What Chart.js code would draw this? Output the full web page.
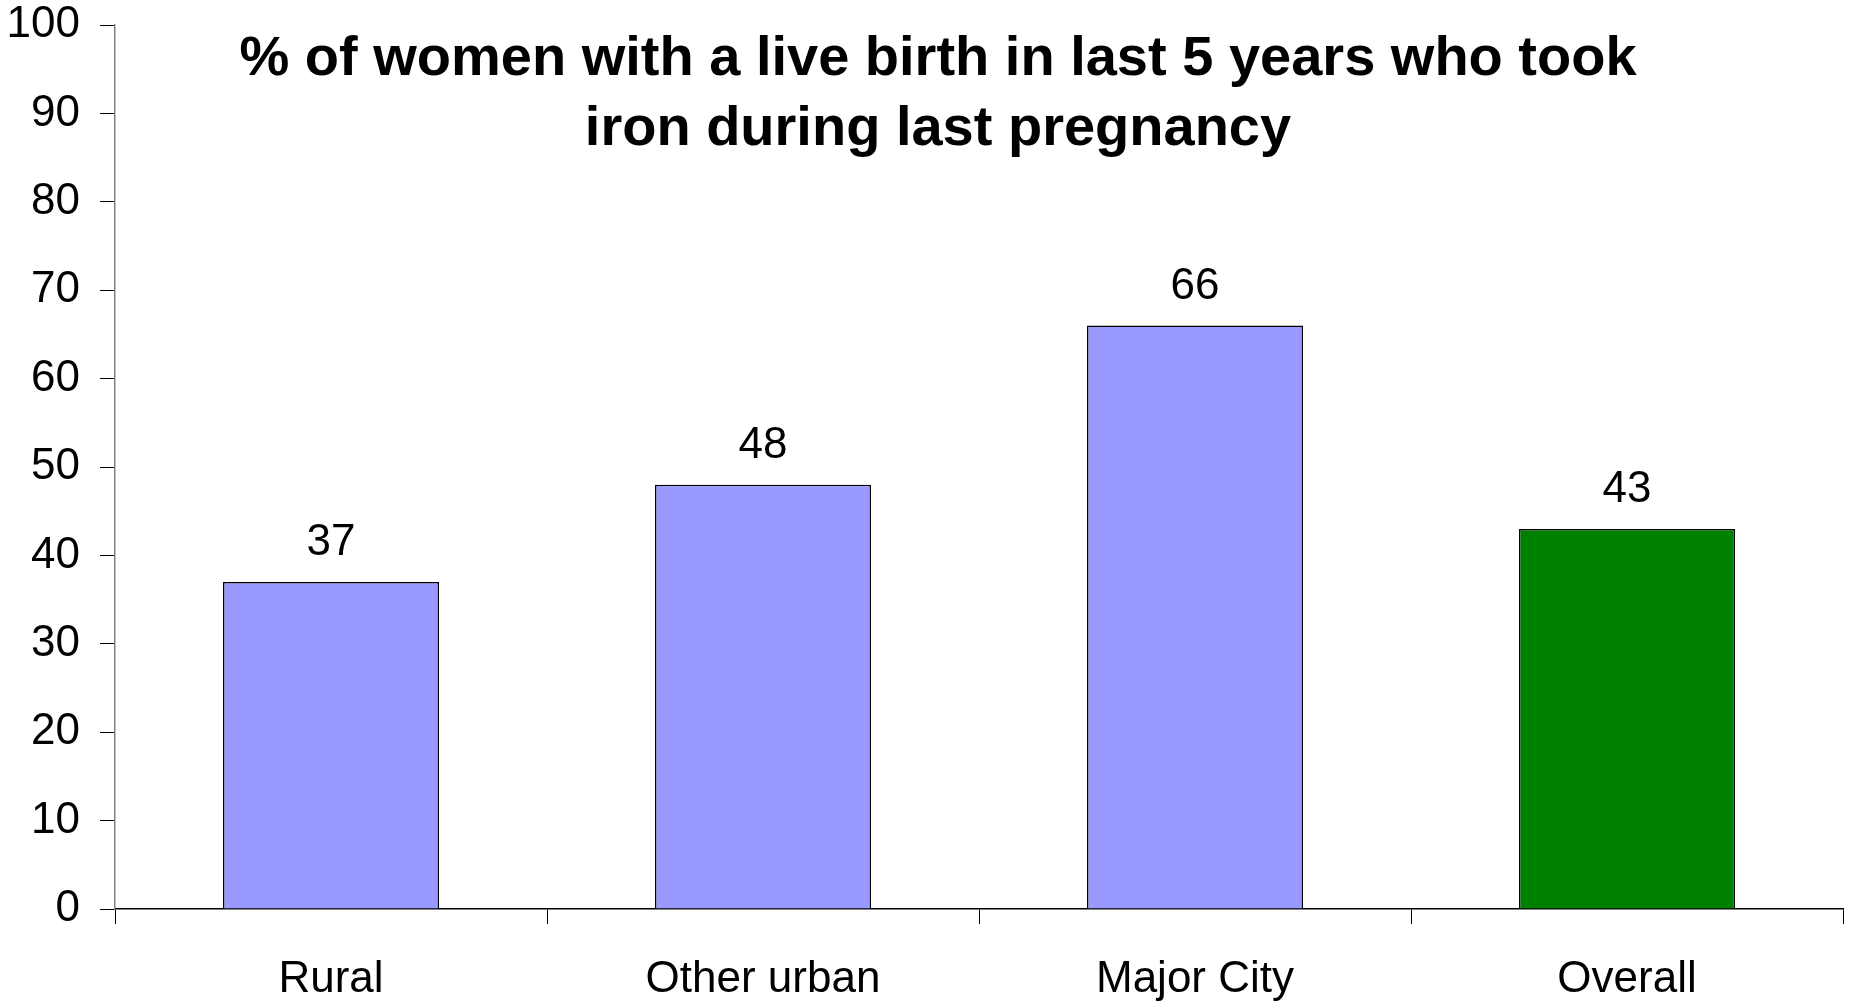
<!DOCTYPE html>
<html>
  <head>
    <meta charset="UTF-8">
    <title>Iron during last pregnancy</title>
    <script src="https://cdn.jsdelivr.net/npm/chart.js"></script>
    <style>
      html, body { margin: 0; padding: 0; background: #fff; }
      #wrap { width: 1851px; height: 1001px; }
    </style>
  </head>
  <body>
    <div id="wrap"><canvas id="chart"></canvas></div>

    <script>
      // data
      var categories = ['Rural', 'Other urban', 'Major City', 'Overall'];
      var percentValues = [37, 48, 66, 43];
      var barColors = ['#9999FF', '#9999FF', '#9999FF', '#008000'];
      var titleLines = ['% of women with a live birth in last 5 years who took', 'iron during last pregnancy'];
      var yTicks = [0, 10, 20, 30, 40, 50, 60, 70, 80, 90, 100];

      var FONT = '"Liberation Sans", Arial, sans-serif';

      // title drawn on top of the chart area, like the original
      var titlePlugin = {
        id: 'titleLines',
        afterDraw: function(chart) {
          var ctx = chart.ctx;
          ctx.save();
          ctx.fillStyle = '#000';
          ctx.font = 'bold 56px ' + FONT;
          ctx.textAlign = 'center';
          ctx.textBaseline = 'alphabetic';
          for (var i = 0; i < titleLines.length; i++) {
            ctx.fillText(titleLines[i], 938, 75 + i * 70);
          }
          ctx.restore();
        }
      };

      // value labels above each bar
      var valuePlugin = {
        id: 'valueLabels',
        afterDatasetsDraw: function(chart) {
          var ctx = chart.ctx;
          var meta = chart.getDatasetMeta(0);
          ctx.save();
          ctx.fillStyle = '#000';
          ctx.font = '44px ' + FONT;
          ctx.textAlign = 'center';
          ctx.textBaseline = 'alphabetic';
          meta.data.forEach(function(bar, i) {
            ctx.fillText(String(percentValues[i]), bar.x, bar.y - 27);
          });
          ctx.restore();
        }
      };

      var ctx = document.getElementById('chart').getContext('2d');
      var chart = new Chart(ctx, {
        type: 'bar',
        data: {
          labels: categories,
          datasets: [{
            data: percentValues,
            backgroundColor: barColors,
            borderColor: '#000',
            borderWidth: 1.5,
            borderSkipped: 'bottom',
            barPercentage: 0.5,
            categoryPercentage: 1.0
          }]
        },
        options: {
          responsive: true,
          maintainAspectRatio: false,
          animation: false,
          layout: { padding: { left: 0, right: 8, top: 25, bottom: 0 } },
          plugins: {
            legend: { display: false },
            title: { display: false },
            tooltip: { enabled: false }
          },
          scales: {
            x: {
              grid: {
                display: true,
                drawOnChartArea: false,
                drawTicks: true,
                tickLength: 15,
                color: '#000',
                lineWidth: 1,
                offset: true
              },
              border: { color: '#000', width: 1.5 },
              ticks: {
                color: '#000',
                font: { family: FONT, size: 44 },
                padding: 29,
                maxRotation: 0
              },
              afterFit: function(scale) { scale.height = 92; }
            },
            y: {
              min: 0,
              max: 100,
              afterBuildTicks: function(scale) {
                scale.ticks = yTicks.map(function(v) { return { value: v }; });
              },
              grid: {
                display: true,
                drawOnChartArea: false,
                drawTicks: true,
                tickLength: 15,
                color: '#000',
                lineWidth: 1
              },
              border: { color: '#808080', width: 1.5 },
              ticks: {
                color: '#000',
                font: { family: FONT, size: 44, lineHeight: 0.1 },
                padding: 20,
                autoSkip: false
              },
              afterFit: function(scale) { scale.width = 115; }
            }
          }
        },
        plugins: [titlePlugin, valuePlugin]
      });
    </script>
  </body>
</html>
